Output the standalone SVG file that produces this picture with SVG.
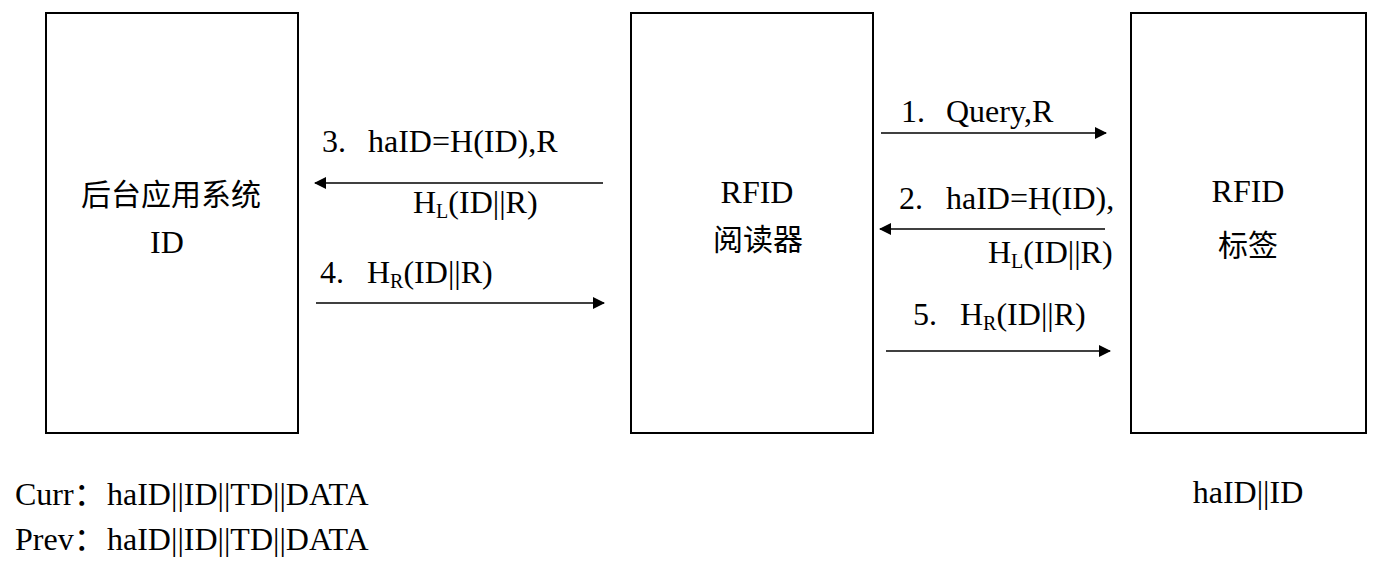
<svg xmlns="http://www.w3.org/2000/svg" width="1379" height="576" viewBox="0 0 1379 576">
<style>
.box{fill:#fff;stroke:#000;stroke-width:2}
.t{font-family:"Liberation Serif","Noto Sans CJK SC",serif;font-size:32px;fill:#000}
.cj{font-size:30px}
.c{text-anchor:middle}
.sub{font-size:20px}
.ln{stroke:#000;stroke-width:1.3;fill:none}
</style>
<defs>
<marker id="ah" markerUnits="userSpaceOnUse" markerWidth="12" markerHeight="12" refX="11" refY="6" orient="auto">
<path d="M0,0 L12,6 L0,12 Z" fill="#000"/>
</marker>
</defs>
<rect width="1379" height="576" fill="#fff"/>
<g id="backend">
<rect class="box" x="46" y="13" width="252" height="420"/>
<text class="t cj c" x="171" y="205">后台应用系统</text>
<text class="t c" x="167" y="253">ID</text>
</g>
<g id="reader">
<rect class="box" x="631" y="13" width="242" height="420"/>
<text class="t c" x="757" y="203">RFID</text>
<text class="t cj c" x="758" y="250">阅读器</text>
</g>
<g id="tag">
<rect class="box" x="1131" y="13" width="235" height="420"/>
<text class="t c" x="1248" y="202">RFID</text>
<text class="t cj c" x="1248" y="256">标签</text>
</g>
<g id="connectors">
<line class="ln" x1="881" y1="133" x2="1106" y2="133" marker-end="url(#ah)"/>
<line class="ln" x1="1105" y1="229" x2="880" y2="229" marker-end="url(#ah)"/>
<line class="ln" x1="603" y1="183" x2="315" y2="183" marker-end="url(#ah)"/>
<line class="ln" x1="316" y1="303" x2="604" y2="303" marker-end="url(#ah)"/>
<line class="ln" x1="886" y1="351" x2="1110" y2="351" marker-end="url(#ah)"/>
</g>
<g id="labels">
<text class="t" x="901" y="122">1.<tspan x="946">Query,R</tspan></text>
<text class="t" x="899" y="209">2.<tspan x="946">haID=H(ID),</tspan></text>
<text class="t" x="988" y="263">H<tspan class="sub" dy="5">L</tspan><tspan dy="-5">(ID||R)</tspan></text>
<text class="t" x="322" y="152">3.<tspan x="368">haID=H(ID),R</tspan></text>
<text class="t" x="413" y="213">H<tspan class="sub" dy="5">L</tspan><tspan dy="-5">(ID||R)</tspan></text>
<text class="t" x="320" y="283">4.<tspan x="367">H</tspan><tspan class="sub" dy="5">R</tspan><tspan dy="-5">(ID||R)</tspan></text>
<text class="t" x="913" y="325">5.<tspan x="960">H</tspan><tspan class="sub" dy="5">R</tspan><tspan dy="-5">(ID||R)</tspan></text>
</g>
<g id="notes">
<text class="t" x="15" y="505">Curr：<tspan x="107">haID||ID||TD||DATA</tspan></text>
<text class="t" x="15" y="550">Prev：<tspan x="107">haID||ID||TD||DATA</tspan></text>
<text class="t c" x="1248" y="503">haID||ID</text>
</g>
</svg>
